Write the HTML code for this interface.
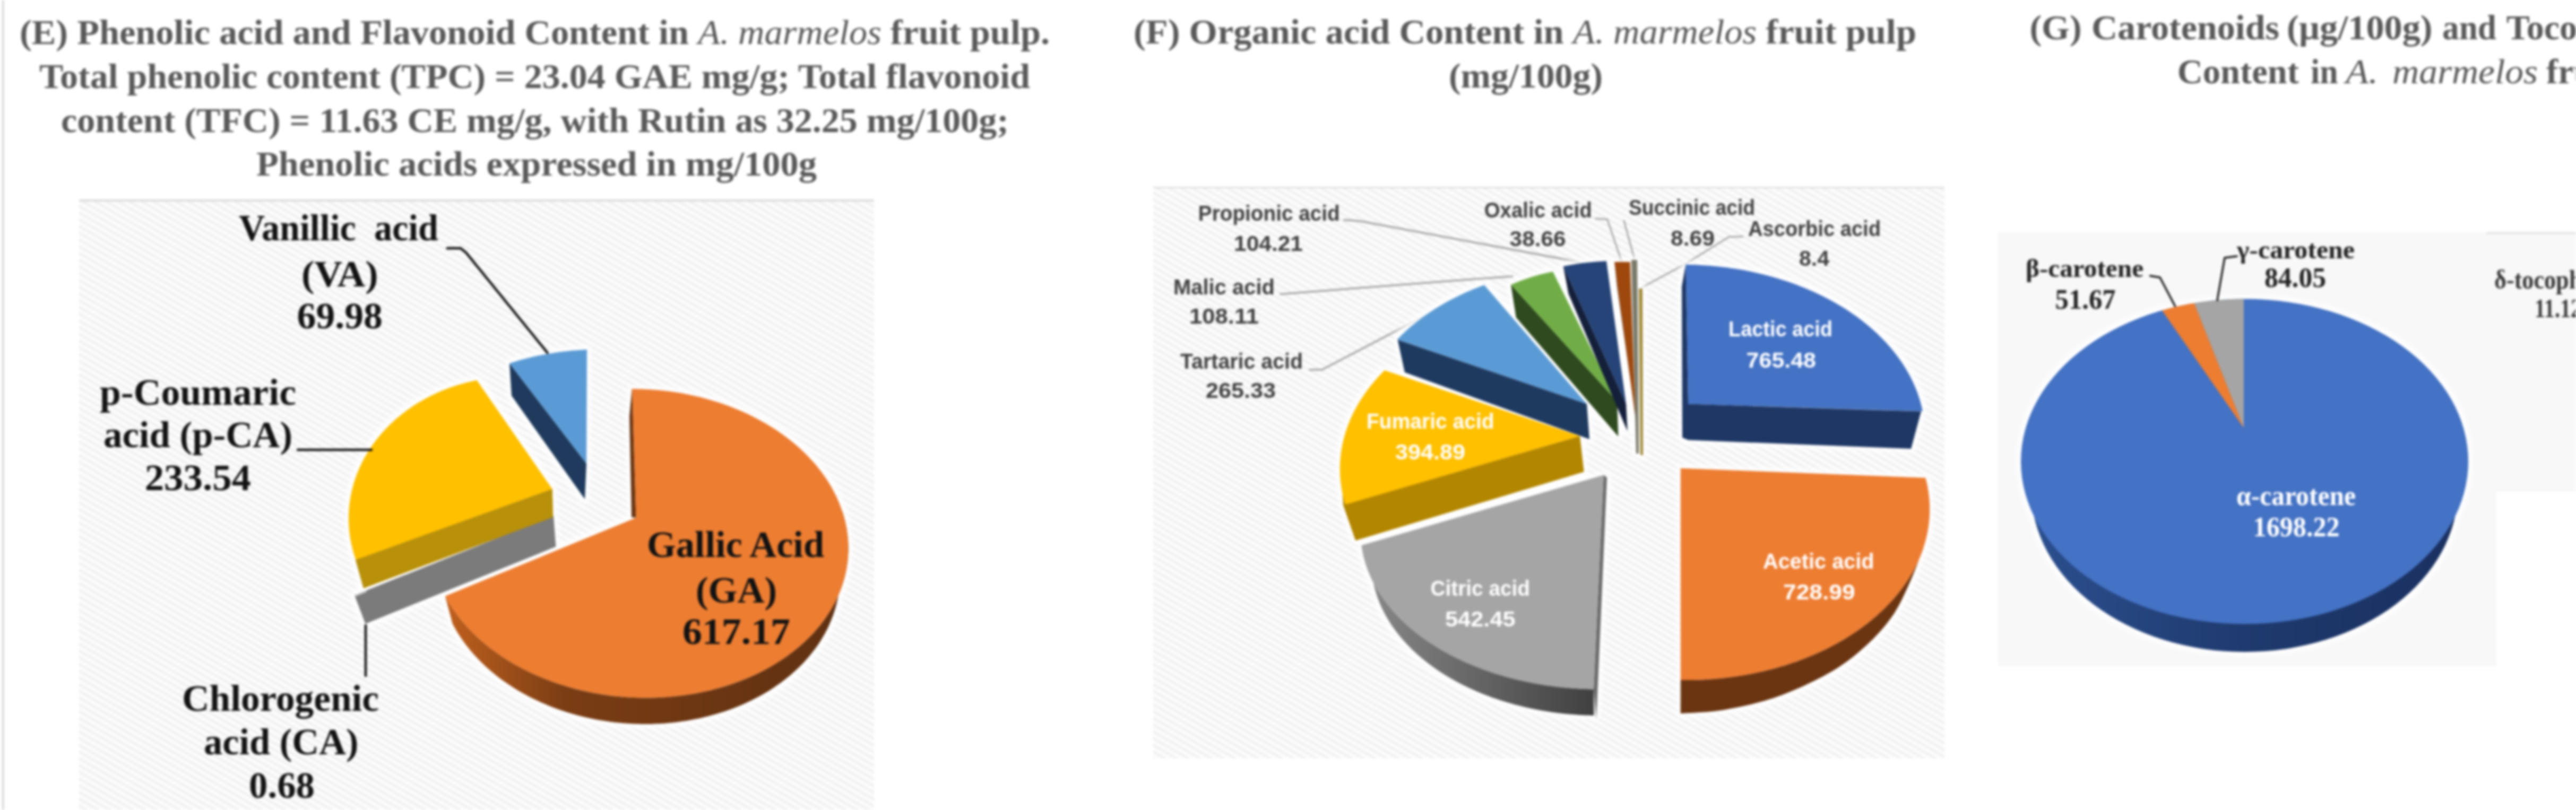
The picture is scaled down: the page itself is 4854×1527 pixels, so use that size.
<!DOCTYPE html>
<html><head><meta charset="utf-8">
<style>
html,body{margin:0;padding:0;background:#fff;width:4854px;height:1527px;overflow:hidden}
svg{display:block;filter:blur(2px)}
.t{font-family:"Liberation Serif",serif;font-weight:bold;fill:#595959}
</style></head><body>
<svg width="4854" height="1527" viewBox="0 0 4854 1527">
<defs>
<pattern id="diag" patternUnits="userSpaceOnUse" width="11" height="11" patternTransform="rotate(-60)">
<rect width="11" height="11" fill="#fcfcfc"/>
<rect width="4.5" height="11" fill="#f0f0f0"/>
</pattern>
<linearGradient id="gOrSide" x1="0" y1="0" x2="1" y2="0">
<stop offset="0" stop-color="#C0601E"/><stop offset="0.3" stop-color="#7A3D14"/><stop offset="1" stop-color="#5E3012"/>
</linearGradient>
<linearGradient id="gBlSide" x1="0" y1="0" x2="1" y2="0"><stop offset="0" stop-color="#2B4F8E"/><stop offset="0.5" stop-color="#1F3A6E"/><stop offset="1" stop-color="#1A3060"/></linearGradient>
<linearGradient id="gGrSide" x1="0" y1="0" x2="1" y2="0">
<stop offset="0" stop-color="#8a8a8a"/><stop offset="1" stop-color="#404040"/>
</linearGradient>
<filter id="glow" x="-10%" y="-10%" width="120%" height="120%" color-interpolation-filters="sRGB">
<feMorphology in="SourceAlpha" operator="dilate" radius="7" result="d"/>
<feGaussianBlur in="d" stdDeviation="4" result="b"/>
<feFlood flood-color="#ffffff" flood-opacity="0.85"/>
<feComposite in2="b" operator="in" result="g"/>
<feMerge><feMergeNode in="g"/><feMergeNode in="SourceGraphic"/></feMerge>
</filter>
</defs>
<rect x="0" y="0" width="4854" height="1527" fill="#fff"/>
<rect x="4" y="0" width="3.5" height="1527" fill="#d6d6d6"/>
<rect x="149" y="377" width="1498" height="1150" fill="url(#diag)"/>
<rect x="149" y="376" width="1498" height="4" fill="#dcdcdc"/>
<rect x="2173" y="353" width="1491" height="1077" fill="url(#diag)"/>
<rect x="2173" y="352" width="1491" height="3" fill="#e2e2e2"/>
<rect x="3765" y="438" width="939" height="818" fill="#f8f8f8"/>
<rect x="4685" y="439" width="169" height="488" fill="#f8f8f8"/>
<rect x="4685" y="438" width="169" height="3" fill="#dddddd"/>
<text class="t" x="37" y="83" font-size="66" textLength="1941" lengthAdjust="spacingAndGlyphs">(E) Phenolic acid and Flavonoid Content in <tspan font-style="italic" font-weight="normal">A. marmelos</tspan> fruit pulp.</text>
<text class="t" x="74" y="166" font-size="66" textLength="1867" lengthAdjust="spacingAndGlyphs">Total phenolic content (TPC) = 23.04 GAE mg/g; Total flavonoid</text>
<text class="t" x="115" y="249" font-size="66" textLength="1786" lengthAdjust="spacingAndGlyphs">content (TFC) = 11.63 CE mg/g, with Rutin as 32.25 mg/100g;</text>
<text class="t" x="483" y="331" font-size="66" textLength="1056" lengthAdjust="spacingAndGlyphs">Phenolic acids expressed in mg/100g</text>
<text class="t" x="2136" y="82" font-size="66" textLength="1475" lengthAdjust="spacingAndGlyphs">(F) Organic acid Content in <tspan font-style="italic" font-weight="normal">A. marmelos</tspan> fruit pulp</text>
<text class="t" x="2730" y="165" font-size="66" textLength="290" lengthAdjust="spacingAndGlyphs">(mg/100g)</text>
<text class="t" x="3824.5" y="74" font-size="66" textLength="98" lengthAdjust="spacingAndGlyphs">(G)</text>
<text class="t" x="3941" y="74" font-size="66" textLength="354" lengthAdjust="spacingAndGlyphs">Carotenoids</text>
<text class="t" x="4309" y="74" font-size="66" textLength="274.6" lengthAdjust="spacingAndGlyphs">(µg/100g)</text>
<text class="t" x="4602" y="74" font-size="66" textLength="102" lengthAdjust="spacingAndGlyphs">and</text>
<text class="t" x="4722.7" y="74" font-size="66">Tocopherols</text>
<text class="t" x="4102.8" y="157" font-size="66" textLength="229" lengthAdjust="spacingAndGlyphs">Content</text>
<text class="t" x="4354" y="157" font-size="66" textLength="51.6" lengthAdjust="spacingAndGlyphs">in</text>
<text class="t" x="4420" y="157" font-size="66" style="font-style:italic;font-weight:normal" textLength="61" lengthAdjust="spacingAndGlyphs">A.</text>
<text class="t" x="4508" y="157" font-size="66" style="font-style:italic;font-weight:normal" textLength="274" lengthAdjust="spacingAndGlyphs">marmelos</text>
<text class="t" x="4798" y="157" font-size="66">fruit</text>
<g filter="url(#glow)">
<polygon points="960.0,685.0 1105.0,874.0 1102.0,941.0 964.0,746.0" fill="#1F3A5C" />
<path d="M960,685 Q1030,662 1106,659 L1105,874 Z" fill="#5B9BD5" />
<polygon points="670.0,1055.5 1040.7,922.0 1042.0,972.6 685.0,1109.0" fill="#B8900A" />
<polygon points="1040.7,922.0 898.5,716.7 893.4,717.8 888.3,718.9 883.2,720.1 878.2,721.4 873.1,722.7 868.1,724.2 863.2,725.6 858.2,727.2 853.3,728.8 848.4,730.6 843.6,732.3 838.8,734.2 834.0,736.1 829.3,738.1 824.6,740.1 819.9,742.3 815.3,744.5 810.7,746.7 806.2,749.0 801.7,751.4 797.3,753.9 792.9,756.4 788.6,759.0 784.3,761.6 780.1,764.3 775.9,767.1 771.8,769.9 767.7,772.8 763.7,775.7 759.8,778.7 755.9,781.8 752.1,784.9 748.3,788.1 744.6,791.3 741.0,794.6 737.4,797.9 733.9,801.3 730.5,804.7 727.1,808.2 723.8,811.7 720.6,815.3 717.4,818.9 714.4,822.6 711.3,826.3 708.4,830.0 705.5,833.8 702.8,837.7 700.0,841.5 697.4,845.5 694.8,849.4 692.4,853.4 690.0,857.4 687.6,861.5 685.4,865.6 683.2,869.7 681.2,873.9 679.2,878.1 677.2,882.3 675.4,886.5 673.7,890.8 672.0,895.1 670.4,899.4 668.9,903.7 667.5,908.1 666.2,912.5 665.0,916.9 663.8,921.3 662.8,925.7 661.8,930.1 660.9,934.6 660.1,939.1 659.4,943.6 658.8,948.0 658.2,952.5 657.8,957.0 657.4,961.6 657.2,966.1 657.0,970.6 656.9,975.1 656.9,979.6 657.0,984.2 657.2,988.7 657.5,993.2 657.8,997.7 658.3,1002.2 658.8,1006.7 659.4,1011.2 660.1,1015.7 660.9,1020.2 661.8,1024.6 662.8,1029.1 663.9,1033.5 665.0,1037.9 666.2,1042.3 667.6,1046.7 669.0,1051.0 670.5,1055.4" fill="#FFC000" />
<polygon points="668.0,1122.0 1043.0,972.0 1047.4,1030.6 688.5,1176.0" fill="#7B7B7B" />
<polygon points="668.0,1122.0 690.0,1113.0 691.0,1116.0 669.0,1125.0" fill="#c8c8c8" />
<polygon points="670.0,1055.5 1040.7,922.0 1042.0,975.0 685.0,1109.0" fill="#B8900A" />
<polygon points="1586.8,963.0 1588.8,969.3 1590.6,975.6 1592.3,981.9 1593.7,988.2 1595.0,994.5 1596.0,1000.9 1596.9,1007.3 1597.6,1013.6 1598.1,1020.0 1598.4,1026.4 1598.6,1032.8 1598.5,1039.2 1598.2,1045.6 1597.8,1051.9 1597.2,1058.3 1596.3,1064.6 1595.3,1070.9 1594.1,1077.2 1592.7,1083.5 1591.2,1089.7 1589.4,1095.9 1587.5,1102.1 1585.3,1108.2 1583.0,1114.3 1580.5,1120.4 1577.8,1126.4 1575.0,1132.4 1572.0,1138.3 1568.7,1144.1 1565.4,1149.9 1561.8,1155.6 1558.1,1161.3 1554.2,1166.9 1550.1,1172.5 1545.9,1177.9 1541.5,1183.3 1536.9,1188.6 1532.2,1193.9 1527.3,1199.0 1522.3,1204.1 1517.1,1209.1 1511.7,1213.9 1506.3,1218.8 1500.6,1223.5 1494.8,1228.1 1488.9,1232.6 1482.9,1237.0 1476.7,1241.3 1470.4,1245.5 1463.9,1249.6 1457.4,1253.6 1450.7,1257.5 1443.9,1261.3 1437.0,1264.9 1429.9,1268.5 1422.8,1271.9 1415.5,1275.2 1408.2,1278.4 1400.7,1281.4 1393.2,1284.4 1385.6,1287.2 1377.8,1289.9 1370.0,1292.4 1362.1,1294.9 1354.2,1297.2 1346.2,1299.3 1338.1,1301.4 1329.9,1303.3 1321.7,1305.0 1313.4,1306.7 1305.1,1308.2 1296.7,1309.5 1288.2,1310.7 1279.8,1311.8 1271.3,1312.8 1262.7,1313.6 1254.2,1314.3 1245.6,1314.8 1237.0,1315.2 1228.4,1315.4 1219.7,1315.5 1211.1,1315.5 1202.5,1315.3 1193.8,1315.0 1185.2,1314.6 1176.6,1314.0 1167.9,1313.2 1159.3,1312.4 1150.8,1311.4 1142.2,1310.2 1133.7,1308.9 1125.2,1307.5 1116.8,1306.0 1108.4,1304.3 1100.0,1302.4 1091.7,1300.5 1083.4,1298.4 1075.3,1296.2 1067.1,1293.8 1059.1,1291.3 1051.1,1288.7 1043.1,1286.0 1035.3,1283.1 1027.5,1280.1 1019.9,1277.0 1012.3,1273.8 1004.8,1270.4 997.4,1266.9 990.1,1263.3 982.9,1259.6 975.8,1255.8 968.8,1251.9 961.9,1247.8 955.2,1243.7 948.6,1239.4 942.0,1235.1 935.7,1230.6 929.4,1226.1 923.3,1221.4 917.3,1216.7 911.5,1211.8 905.8,1206.9 900.2,1201.9 894.8,1196.8 889.5,1191.6 884.4,1186.3 879.5,1181.0 874.7,1175.5 870.0,1170.0 865.5,1164.5 861.2,1158.8 857.1,1153.1 853.1,1147.4 849.3,1141.6 845.6,1135.7 842.1,1129.8 838.8,1123.8 852.7,1175.8 855.8,1181.7 859.1,1187.6 862.6,1193.4 866.3,1199.1 870.1,1204.8 874.1,1210.5 878.2,1216.0 882.5,1221.5 887.0,1227.0 891.6,1232.3 896.4,1237.6 901.3,1242.8 906.3,1247.9 911.5,1253.0 916.8,1257.9 922.3,1262.8 927.9,1267.6 933.7,1272.3 939.5,1276.9 945.5,1281.4 951.7,1285.8 957.9,1290.1 964.3,1294.3 970.8,1298.4 977.4,1302.4 984.1,1306.2 990.9,1310.0 997.8,1313.7 1004.8,1317.2 1011.9,1320.6 1019.1,1324.0 1026.4,1327.1 1033.8,1330.2 1041.2,1333.2 1048.7,1336.0 1056.4,1338.7 1064.0,1341.3 1071.8,1343.7 1079.6,1346.0 1087.5,1348.2 1095.4,1350.3 1103.4,1352.2 1111.4,1354.0 1119.5,1355.7 1127.6,1357.2 1135.7,1358.6 1143.9,1359.8 1152.1,1361.0 1160.4,1362.0 1168.6,1362.8 1176.9,1363.5 1185.2,1364.1 1193.5,1364.5 1201.8,1364.8 1210.1,1365.0 1218.4,1365.0 1226.7,1364.9 1235.0,1364.6 1243.3,1364.2 1251.5,1363.7 1259.7,1363.0 1267.9,1362.2 1276.1,1361.2 1284.3,1360.1 1292.4,1358.9 1300.4,1357.6 1308.4,1356.1 1316.4,1354.4 1324.3,1352.7 1332.1,1350.8 1339.9,1348.8 1347.6,1346.6 1355.3,1344.3 1362.9,1341.9 1370.4,1339.4 1377.8,1336.7 1385.1,1333.9 1392.4,1331.0 1399.6,1327.9 1406.6,1324.8 1413.6,1321.5 1420.5,1318.1 1427.2,1314.6 1433.9,1310.9 1440.4,1307.2 1446.9,1303.4 1453.2,1299.4 1459.4,1295.3 1465.5,1291.1 1471.4,1286.9 1477.2,1282.5 1482.9,1278.0 1488.5,1273.4 1493.9,1268.8 1499.2,1264.0 1504.3,1259.2 1509.3,1254.2 1514.2,1249.2 1518.9,1244.1 1523.4,1238.9 1527.8,1233.6 1532.0,1228.3 1536.1,1222.9 1540.0,1217.4 1543.8,1211.9 1547.4,1206.2 1550.8,1200.6 1554.1,1194.8 1557.2,1189.0 1560.1,1183.2 1562.8,1177.3 1565.4,1171.3 1567.8,1165.3 1570.1,1159.3 1572.1,1153.2 1574.0,1147.1 1575.7,1141.0 1577.2,1134.8 1578.6,1128.6 1579.7,1122.4 1580.7,1116.1 1581.5,1109.8 1582.1,1103.5 1582.6,1097.3 1582.8,1090.9 1582.9,1084.6 1582.8,1078.3 1582.5,1072.0 1582.0,1065.7 1581.3,1059.4 1580.5,1053.1 1579.5,1046.8 1578.3,1040.5 1576.9,1034.2 1575.4,1028.0 1573.6,1021.8 1571.7,1015.6" fill="url(#gOrSide)" />
<polygon points="1186.0,785.0 1191.0,730.4 1198.5,976.0 1190.0,975.0" fill="#6A3512" />
<polygon points="1198.5,976.0 1191.1,733.3 1197.7,733.3 1204.4,733.4 1211.0,733.6 1217.6,733.9 1224.2,734.2 1230.8,734.7 1237.4,735.2 1244.0,735.8 1250.6,736.5 1257.1,737.3 1263.7,738.1 1270.2,739.0 1276.7,740.1 1283.2,741.1 1289.7,742.3 1296.1,743.6 1302.6,744.9 1308.9,746.3 1315.3,747.8 1321.6,749.3 1327.9,751.0 1334.2,752.7 1340.4,754.5 1346.6,756.4 1352.8,758.3 1358.9,760.3 1364.9,762.4 1371.0,764.6 1376.9,766.8 1382.9,769.2 1388.7,771.6 1394.6,774.0 1400.3,776.5 1406.0,779.1 1411.7,781.8 1417.3,784.5 1422.8,787.4 1428.3,790.2 1433.7,793.2 1439.1,796.2 1444.4,799.2 1449.6,802.4 1454.7,805.6 1459.8,808.8 1464.8,812.1 1469.7,815.5 1474.6,818.9 1479.4,822.4 1484.1,826.0 1488.7,829.6 1493.2,833.2 1497.7,837.0 1502.1,840.7 1506.4,844.5 1510.6,848.4 1514.7,852.3 1518.7,856.3 1522.7,860.3 1526.5,864.4 1530.3,868.5 1534.0,872.6 1537.6,876.8 1541.1,881.1 1544.4,885.3 1547.7,889.6 1550.9,894.0 1554.1,898.4 1557.1,902.8 1560.0,907.3 1562.8,911.8 1565.5,916.3 1568.1,920.8 1570.6,925.4 1573.0,930.0 1575.3,934.7 1577.5,939.3 1579.5,944.0 1581.5,948.7 1583.4,953.5 1585.1,958.2 1586.8,963.0 1588.4,967.8 1589.8,972.6 1591.1,977.4 1592.4,982.2 1593.5,987.1 1594.5,991.9 1595.4,996.8 1596.2,1001.7 1596.8,1006.5 1597.4,1011.4 1597.8,1016.3 1598.2,1021.2 1598.4,1026.1 1598.5,1031.0 1598.5,1035.8 1598.4,1040.7 1598.2,1045.6 1597.9,1050.5 1597.5,1055.3 1596.9,1060.2 1596.3,1065.1 1595.5,1069.9 1594.6,1074.7 1593.6,1079.5 1592.5,1084.3 1591.3,1089.1 1590.0,1093.8 1588.6,1098.6 1587.1,1103.3 1585.4,1108.0 1583.7,1112.7 1581.8,1117.3 1579.9,1121.9 1577.8,1126.5 1575.6,1131.1 1573.3,1135.6 1571.0,1140.1 1568.5,1144.6 1565.9,1149.0 1563.2,1153.4 1560.4,1157.8 1557.5,1162.1 1554.5,1166.4 1551.4,1170.6 1548.3,1174.9 1545.0,1179.0 1541.6,1183.1 1538.1,1187.2 1534.6,1191.2 1530.9,1195.2 1527.1,1199.2 1523.3,1203.0 1519.4,1206.9 1515.3,1210.7 1511.2,1214.4 1507.0,1218.1 1502.8,1221.7 1498.4,1225.3 1493.9,1228.8 1489.4,1232.2 1484.8,1235.6 1480.1,1239.0 1475.4,1242.2 1470.5,1245.4 1465.6,1248.6 1460.6,1251.7 1455.5,1254.7 1450.4,1257.7 1445.2,1260.6 1439.9,1263.4 1434.6,1266.1 1429.2,1268.8 1423.7,1271.4 1418.2,1274.0 1412.6,1276.5 1407.0,1278.9 1401.2,1281.2 1395.5,1283.5 1389.7,1285.7 1383.8,1287.8 1377.9,1289.9 1371.9,1291.8 1365.9,1293.7 1359.9,1295.5 1353.8,1297.3 1347.6,1298.9 1341.4,1300.5 1335.2,1302.0 1328.9,1303.5 1322.7,1304.8 1316.3,1306.1 1310.0,1307.3 1303.6,1308.4 1297.2,1309.4 1290.7,1310.4 1284.2,1311.3 1277.8,1312.1 1271.2,1312.8 1264.7,1313.4 1258.2,1314.0 1251.6,1314.4 1245.0,1314.8 1238.5,1315.1 1231.9,1315.3 1225.3,1315.5 1218.6,1315.5 1212.0,1315.5 1205.4,1315.4 1198.8,1315.2 1192.2,1314.9 1185.6,1314.6 1179.0,1314.2 1172.4,1313.6 1165.8,1313.0 1159.2,1312.4 1152.6,1311.6 1146.1,1310.8 1139.6,1309.8 1133.0,1308.8 1126.6,1307.8 1120.1,1306.6 1113.6,1305.3 1107.2,1304.0 1100.8,1302.6 1094.4,1301.1 1088.1,1299.6 1081.8,1298.0 1075.5,1296.2 1069.3,1294.5 1063.1,1292.6 1057.0,1290.7 1050.8,1288.6 1044.8,1286.5 1038.8,1284.4 1032.8,1282.1 1026.8,1279.8 1021.0,1277.5 1015.1,1275.0 1009.4,1272.5 1003.7,1269.9 998.0,1267.2 992.4,1264.5 986.8,1261.7 981.4,1258.8 975.9,1255.9 970.6,1252.9 965.3,1249.8 960.1,1246.7 954.9,1243.5 949.8,1240.3 944.8,1237.0 939.9,1233.6 935.0,1230.2 930.3,1226.7 925.5,1223.1 920.9,1219.5 916.4,1215.9 911.9,1212.2 907.5,1208.4 903.2,1204.6 899.0,1200.7 894.9,1196.8 890.8,1192.9 886.9,1188.8 883.0,1184.8 879.2,1180.7 875.5,1176.5 871.9,1172.3 868.4,1168.1 865.0,1163.8 861.7,1159.5 858.5,1155.2 855.4,1150.8 852.4,1146.4 849.5,1141.9 846.7,1137.4 844.0,1132.9 841.3,1128.4 838.8,1123.8" fill="#ED7D31" />
</g>
<text x="450.0" y="453.4" font-family="Liberation Serif" font-weight="bold" font-size="70.0" fill="#121212" textLength="376.0" lengthAdjust="spacingAndGlyphs" >Vanillic&#160; acid</text>
<text x="568.0" y="539.5" font-family="Liberation Serif" font-weight="bold" font-size="70.0" fill="#121212" textLength="144.6" lengthAdjust="spacingAndGlyphs" >(VA)</text>
<text x="559.5" y="619.0" font-family="Liberation Serif" font-weight="bold" font-size="70.0" fill="#121212" textLength="161.5" lengthAdjust="spacingAndGlyphs" >69.98</text>
<polyline points="842.7,468.0 868.0,468.0 878.0,476.0 1031.5,665.0" fill="none" stroke="#121212" stroke-width="4.5" stroke-linejoin="round" stroke-linecap="round"/>
<text x="188.0" y="763.0" font-family="Liberation Serif" font-weight="bold" font-size="70.0" fill="#121212" textLength="370.0" lengthAdjust="spacingAndGlyphs" >p-Coumaric</text>
<text x="195.0" y="842.5" font-family="Liberation Serif" font-weight="bold" font-size="70.0" fill="#121212" textLength="356.0" lengthAdjust="spacingAndGlyphs" >acid (p-CA)</text>
<text x="272.7" y="923.7" font-family="Liberation Serif" font-weight="bold" font-size="70.0" fill="#121212" textLength="200.3" lengthAdjust="spacingAndGlyphs" >233.54</text>
<polyline points="561.0,848.0 700.0,848.0" fill="none" stroke="#121212" stroke-width="4.5" stroke-linejoin="round" stroke-linecap="round"/>
<text x="343.0" y="1340.0" font-family="Liberation Serif" font-weight="bold" font-size="70.0" fill="#121212" textLength="371.0" lengthAdjust="spacingAndGlyphs" >Chlorogenic</text>
<text x="384.0" y="1421.7" font-family="Liberation Serif" font-weight="bold" font-size="70.0" fill="#121212" textLength="291.5" lengthAdjust="spacingAndGlyphs" >acid (CA)</text>
<text x="469.0" y="1503.5" font-family="Liberation Serif" font-weight="bold" font-size="70.0" fill="#121212" textLength="124.0" lengthAdjust="spacingAndGlyphs" >0.68</text>
<polyline points="689.0,1179.0 689.0,1274.0" fill="none" stroke="#121212" stroke-width="4.5" stroke-linejoin="round" stroke-linecap="round"/>
<text x="1219.0" y="1050.0" font-family="Liberation Serif" font-weight="bold" font-size="70.0" fill="#121212" textLength="334.0" lengthAdjust="spacingAndGlyphs" >Gallic Acid</text>
<text x="1311.0" y="1136.0" font-family="Liberation Serif" font-weight="bold" font-size="70.0" fill="#121212" textLength="153.0" lengthAdjust="spacingAndGlyphs" >(GA)</text>
<text x="1286.0" y="1214.0" font-family="Liberation Serif" font-weight="bold" font-size="70.0" fill="#121212" textLength="203.0" lengthAdjust="spacingAndGlyphs" >617.17</text>
<polyline points="2532.7,414.5 2564.0,417.0 2975.6,494.0" fill="none" stroke="#A6A6A6" stroke-width="3.5" stroke-linejoin="round" stroke-linecap="round"/>
<polyline points="2413.0,554.5 2780.0,526.0 2850.0,521.0" fill="none" stroke="#A6A6A6" stroke-width="3.5" stroke-linejoin="round" stroke-linecap="round"/>
<polyline points="2468.0,697.0 2491.0,697.0 2699.0,588.0 2790.0,545.0" fill="none" stroke="#A6A6A6" stroke-width="3.5" stroke-linejoin="round" stroke-linecap="round"/>
<polyline points="3006.7,412.0 3028.7,413.5 3056.0,494.0" fill="none" stroke="#A6A6A6" stroke-width="3.0" stroke-linejoin="round" stroke-linecap="round"/>
<polyline points="3060.0,416.0 3080.6,491.0" fill="none" stroke="#A6A6A6" stroke-width="3.0" stroke-linejoin="round" stroke-linecap="round"/>
<polyline points="3284.0,446.0 3258.0,446.5 3175.0,498.0 3092.0,543.0" fill="none" stroke="#A6A6A6" stroke-width="3.0" stroke-linejoin="round" stroke-linecap="round"/>
<g filter="url(#glow)">
<polygon points="2633.6,640.4 2990.0,761.4 2995.0,828.0 2647.0,702.0" fill="#1F3A5F" />
<polygon points="2990.0,761.4 2632.8,640.1 2637.1,635.7 2641.4,631.3 2645.9,627.0 2650.4,622.8 2655.1,618.6 2659.9,614.5 2664.8,610.4 2669.8,606.4 2674.9,602.4 2680.1,598.5 2685.5,594.7 2690.9,590.9 2696.4,587.2 2702.0,583.5 2707.7,579.9 2713.6,576.4 2719.5,573.0 2725.5,569.6 2731.5,566.3 2737.7,563.0 2744.0,559.9 2750.3,556.8 2756.7,553.7 2763.2,550.8 2769.8,547.9 2776.4,545.1 2783.2,542.4 2790.0,539.8 2796.8,537.2" fill="#5B9BD5" />
<polygon points="2847.0,536.7 3047.0,756.4 3049.4,823.0 2856.8,598.4" fill="#2E4A1E" />
<path d="M2847,536.7 Q2885,520 2926,512 L3047,756.4 Z" fill="#70AD47" />
<polygon points="2945.7,502.0 3064.0,761.4 3066.7,813.0 2955.6,554.0" fill="#141F3A" />
<path d="M2945.7,502 Q2985,494 3027,492 L3064,761.4 Z" fill="#264478" />
<polygon points="3042.0,493.7 3081.5,786.0 3086.0,815.7 3047.0,540.0" fill="#5A2A08" />
<polygon points="3042.0,493.7 3071.6,493.7 3081.5,786.0" fill="#9E480E" />
<polygon points="3074.0,490.0 3085.0,490.0 3088.0,855.0 3083.0,855.0" fill="#7a7a6a" />
<polygon points="3088.0,544.0 3095.0,544.0 3096.0,858.0 3091.0,858.0" fill="#A08A3A" />
<polygon points="2531.0,951.8 2977.0,822.0 2984.7,889.6 2554.4,1019.0" fill="#B38600" />
<polygon points="2531.0,951.8 2528.0,900.0 2554.4,1019.0" fill="#B38600" />
<polygon points="2977.0,822.0 2608.9,698.1 2604.4,702.7 2600.0,707.3 2595.7,711.9 2591.6,716.7 2587.5,721.4 2583.6,726.2 2579.8,731.1 2576.1,736.0 2572.5,740.9 2569.1,745.9 2565.8,750.9 2562.6,756.0 2559.5,761.1 2556.6,766.2 2553.7,771.4 2551.0,776.6 2548.5,781.8 2546.0,787.1 2543.7,792.4 2541.5,797.7 2539.5,803.1 2537.6,808.4 2535.8,813.8 2534.1,819.2 2532.6,824.7 2531.2,830.1 2530.0,835.6 2528.9,841.1 2527.9,846.6 2527.0,852.1 2526.3,857.6 2525.8,863.1 2525.3,868.6 2525.0,874.2 2524.8,879.7 2524.8,885.3 2524.9,890.8 2525.1,896.3 2525.5,901.9 2526.0,907.4 2526.7,912.9 2527.4,918.4 2528.4,923.9 2529.4,929.4 2530.6,934.9 2531.9,940.3 2533.4,945.8 2534.9,951.2" fill="#FFC000" />
<polygon points="3003.0,1299.4 2999.7,1299.4 2996.4,1299.3 2993.1,1299.2 2989.8,1299.1 2986.5,1298.9 2983.2,1298.8 2979.9,1298.7 2976.6,1298.5 2973.3,1298.3 2970.0,1298.1 2966.7,1297.9 2963.5,1297.6 2960.2,1297.4 2956.9,1297.1 2953.6,1296.8 2950.3,1296.5 2947.1,1296.2 2943.8,1295.9 2940.5,1295.5 2937.3,1295.2 2934.0,1294.8 2930.8,1294.4 2927.5,1294.0 2924.3,1293.6 2921.1,1293.1 2917.8,1292.7 2914.6,1292.2 2911.4,1291.7 2908.2,1291.2 2905.0,1290.7 2901.7,1290.1 2898.5,1289.6 2895.4,1289.0 2892.2,1288.4 2889.0,1287.8 2885.8,1287.2 2882.7,1286.6 2879.5,1286.0 2876.3,1285.3 2873.2,1284.6 2870.1,1283.9 2866.9,1283.2 2863.8,1282.5 2860.7,1281.8 2857.6,1281.0 2854.5,1280.3 2851.4,1279.5 2848.3,1278.7 2845.3,1277.9 2842.2,1277.1 2839.2,1276.2 2836.1,1275.4 2833.1,1274.5 2830.1,1273.6 2827.1,1272.7 2824.1,1271.8 2821.1,1270.9 2818.1,1269.9 2815.1,1269.0 2812.2,1268.0 2809.2,1267.0 2806.3,1266.0 2803.3,1265.0 2800.4,1264.0 2797.5,1262.9 2794.6,1261.9 2791.7,1260.8 2788.9,1259.7 2786.0,1258.6 2783.2,1257.5 2780.3,1256.4 2777.5,1255.3 2774.7,1254.1 2771.9,1252.9 2769.1,1251.8 2766.4,1250.6 2763.6,1249.4 2760.9,1248.2 2758.2,1246.9 2755.5,1245.7 2752.8,1244.4 2750.1,1243.1 2747.4,1241.9 2744.7,1240.6 2742.1,1239.3 2739.5,1237.9 2736.9,1236.6 2734.3,1235.2 2731.7,1233.9 2729.1,1232.5 2726.6,1231.1 2724.0,1229.7 2721.5,1228.3 2719.0,1226.9 2716.5,1225.5 2714.0,1224.0 2711.6,1222.6 2709.1,1221.1 2706.7,1219.6 2704.3,1218.1 2701.9,1216.6 2699.6,1215.1 2697.2,1213.6 2694.9,1212.0 2692.5,1210.5 2690.2,1208.9 2687.9,1207.3 2685.7,1205.8 2683.4,1204.2 2681.2,1202.6 2679.0,1200.9 2676.8,1199.3 2674.6,1197.7 2672.4,1196.0 2670.3,1194.4 2668.2,1192.7 2666.1,1191.0 2664.0,1189.3 2661.9,1187.6 2659.9,1185.9 2657.8,1184.2 2655.8,1182.5 2653.8,1180.7 2651.9,1179.0 2649.9,1177.2 2648.0,1175.4 2646.1,1173.7 2644.2,1171.9 2642.3,1170.1 2640.4,1168.3 2638.6,1166.5 2636.8,1164.7 2635.0,1162.8 2633.2,1161.0 2631.5,1159.1 2629.7,1157.3 2628.0,1155.4 2626.3,1153.5 2624.7,1151.7 2623.0,1149.8 2621.4,1147.9 2619.8,1146.0 2618.2,1144.1 2616.7,1142.1 2615.1,1140.2 2613.6,1138.3 2612.1,1136.3 2610.6,1134.4 2609.2,1132.4 2607.7,1130.5 2606.3,1128.5 2604.9,1126.5 2603.6,1124.5 2602.2,1122.5 2600.9,1120.5 2599.6,1118.5 2598.3,1116.5 2597.1,1114.5 2595.8,1112.5 2594.6,1110.5 2593.4,1108.4 2592.3,1106.4 2591.1,1104.3 2590.0,1102.3 2588.9,1100.2 2587.8,1098.2 2586.8,1096.1 2585.8,1094.0 2584.8,1092.0 2583.8,1089.9 2582.8,1087.8 2581.9,1085.7 2581.0,1083.6 2580.1,1081.5 2579.2,1079.4 2578.4,1077.3 2577.6,1075.2 2576.8,1073.1 2576.0,1071.0 2575.3,1068.8 2574.5,1066.7 2573.8,1064.6 2573.2,1062.4 2572.5,1060.3 2571.9,1058.2 2571.3,1056.0 2570.7,1053.9 2570.1,1051.7 2569.6,1049.6 2569.1,1047.4 2568.6,1045.3 2568.2,1043.1 2567.7,1040.9 2567.3,1038.8 2566.9,1036.6 2566.6,1034.5 2566.2,1032.3 2565.9,1030.1 2565.6,1027.9 2585.4,1083.4 2585.7,1085.5 2586.0,1087.6 2586.3,1089.8 2586.7,1091.9 2587.1,1094.0 2587.5,1096.1 2587.9,1098.2 2588.3,1100.3 2588.8,1102.4 2589.3,1104.5 2589.8,1106.6 2590.3,1108.7 2590.9,1110.8 2591.4,1112.9 2592.0,1115.0 2592.7,1117.1 2593.3,1119.2 2594.0,1121.3 2594.7,1123.4 2595.4,1125.4 2596.1,1127.5 2596.9,1129.6 2597.6,1131.6 2598.5,1133.7 2599.3,1135.8 2600.1,1137.8 2601.0,1139.9 2601.9,1141.9 2602.8,1143.9 2603.7,1146.0 2604.7,1148.0 2605.7,1150.0 2606.7,1152.1 2607.7,1154.1 2608.8,1156.1 2609.8,1158.1 2610.9,1160.1 2612.0,1162.1 2613.2,1164.1 2614.3,1166.0 2615.5,1168.0 2616.7,1170.0 2617.9,1172.0 2619.2,1173.9 2620.4,1175.9 2621.7,1177.8 2623.0,1179.8 2624.3,1181.7 2625.7,1183.6 2627.1,1185.5 2628.5,1187.5 2629.9,1189.4 2631.3,1191.3 2632.7,1193.1 2634.2,1195.0 2635.7,1196.9 2637.2,1198.8 2638.8,1200.6 2640.3,1202.5 2641.9,1204.3 2643.5,1206.2 2645.1,1208.0 2646.7,1209.8 2648.4,1211.7 2650.1,1213.5 2651.8,1215.3 2653.5,1217.1 2655.2,1218.8 2657.0,1220.6 2658.7,1222.4 2660.5,1224.1 2662.3,1225.9 2664.2,1227.6 2666.0,1229.3 2667.9,1231.1 2669.8,1232.8 2671.7,1234.5 2673.6,1236.2 2675.5,1237.8 2677.5,1239.5 2679.5,1241.2 2681.4,1242.8 2683.5,1244.5 2685.5,1246.1 2687.5,1247.7 2689.6,1249.3 2691.7,1250.9 2693.8,1252.5 2695.9,1254.1 2698.0,1255.7 2700.2,1257.2 2702.4,1258.8 2704.5,1260.3 2706.8,1261.9 2709.0,1263.4 2711.2,1264.9 2713.5,1266.4 2715.7,1267.9 2718.0,1269.3 2720.3,1270.8 2722.6,1272.2 2725.0,1273.7 2727.3,1275.1 2729.7,1276.5 2732.0,1277.9 2734.4,1279.3 2736.9,1280.7 2739.3,1282.1 2741.7,1283.4 2744.2,1284.7 2746.6,1286.1 2749.1,1287.4 2751.6,1288.7 2754.1,1290.0 2756.6,1291.3 2759.2,1292.5 2761.7,1293.8 2764.3,1295.0 2766.9,1296.3 2769.5,1297.5 2772.1,1298.7 2774.7,1299.9 2777.3,1301.1 2780.0,1302.2 2782.6,1303.4 2785.3,1304.5 2788.0,1305.7 2790.7,1306.8 2793.4,1307.9 2796.1,1308.9 2798.8,1310.0 2801.6,1311.1 2804.3,1312.1 2807.1,1313.2 2809.9,1314.2 2812.7,1315.2 2815.5,1316.2 2818.3,1317.1 2821.1,1318.1 2823.9,1319.1 2826.7,1320.0 2829.6,1320.9 2832.5,1321.8 2835.3,1322.7 2838.2,1323.6 2841.1,1324.5 2844.0,1325.3 2846.9,1326.1 2849.8,1327.0 2852.7,1327.8 2855.7,1328.6 2858.6,1329.3 2861.6,1330.1 2864.5,1330.8 2867.5,1331.6 2870.5,1332.3 2873.4,1333.0 2876.4,1333.7 2879.4,1334.4 2882.4,1335.0 2885.4,1335.7 2888.5,1336.3 2891.5,1336.9 2894.5,1337.5 2897.6,1338.1 2900.6,1338.7 2903.7,1339.2 2906.7,1339.7 2909.8,1340.3 2912.8,1340.8 2915.9,1341.3 2919.0,1341.7 2922.1,1342.2 2925.2,1342.7 2928.3,1343.1 2931.4,1343.5 2934.5,1343.9 2937.6,1344.3 2940.7,1344.7 2943.8,1345.0 2946.9,1345.4 2950.0,1345.7 2953.2,1346.0 2956.3,1346.3 2959.4,1346.6 2962.6,1346.8 2965.7,1347.1 2968.8,1347.3 2972.0,1347.5 2975.1,1347.7 2978.3,1347.9 2981.4,1348.1 2984.6,1348.2 2987.7,1348.4 2990.9,1348.5 2994.0,1348.6 2997.2,1348.7 3000.3,1348.8 3003.5,1348.8" fill="url(#gGrSide)" />
<polygon points="3021.8,895.4 3028.0,900.0 3008.0,1356.0 3003.0,1300.0" fill="#6a6a6a" />
<polygon points="3021.8,895.4 3003.0,1299.4 2995.4,1299.2 2987.7,1299.0 2980.1,1298.7 2972.5,1298.2 2964.9,1297.7 2957.3,1297.1 2949.7,1296.5 2942.1,1295.7 2934.6,1294.9 2927.1,1293.9 2919.6,1292.9 2912.1,1291.8 2904.7,1290.6 2897.3,1289.4 2889.9,1288.0 2882.6,1286.6 2875.3,1285.1 2868.0,1283.5 2860.8,1281.8 2853.6,1280.0 2846.5,1278.2 2839.4,1276.3 2832.4,1274.3 2825.5,1272.2 2818.5,1270.1 2811.7,1267.8 2804.9,1265.5 2798.1,1263.2 2791.4,1260.7 2784.8,1258.2 2778.3,1255.6 2771.8,1252.9 2765.4,1250.1 2759.0,1247.3 2752.8,1244.4 2746.6,1241.5 2740.5,1238.4 2734.4,1235.3 2728.5,1232.2 2722.6,1228.9 2716.8,1225.6 2711.1,1222.3 2705.5,1218.9 2700.0,1215.4 2694.6,1211.8 2689.2,1208.2 2684.0,1204.5 2678.8,1200.8 2673.8,1197.0 2668.8,1193.2 2664.0,1189.3 2659.2,1185.4 2654.5,1181.4 2650.0,1177.3 2645.5,1173.2 2641.2,1169.0 2637.0,1164.8 2632.9,1160.6 2628.8,1156.3 2624.9,1152.0 2621.2,1147.6 2617.5,1143.2 2613.9,1138.7 2610.5,1134.2 2607.2,1129.7 2603.9,1125.1 2600.9,1120.5 2597.9,1115.8 2595.0,1111.1 2592.3,1106.4 2589.7,1101.7 2587.2,1096.9 2584.8,1092.1 2582.6,1087.3 2580.5,1082.5 2578.5,1077.6 2576.6,1072.7 2574.9,1067.8 2573.3,1062.9 2571.8,1057.9 2570.5,1053.0 2569.2,1048.0 2568.1,1043.0 2567.2,1038.0 2566.3,1033.0 2565.6,1027.9" fill="#A5A5A5" />
<polygon points="3181.0,761.6 3620.0,775.6 3601.0,846.0 3181.0,829.6" fill="#1E3765" />
<polygon points="3169.0,540.0 3176.4,498.8 3181.0,761.6 3181.0,829.6 3170.0,825.0" fill="#1E3765" />
<polygon points="3181.0,761.6 3176.4,498.7 3184.2,498.9 3192.0,499.1 3199.8,499.4 3207.6,499.9 3215.4,500.4 3223.1,501.0 3230.9,501.7 3238.6,502.5 3246.3,503.4 3254.0,504.3 3261.7,505.4 3269.3,506.6 3276.9,507.8 3284.5,509.1 3292.0,510.6 3299.5,512.1 3307.0,513.7 3314.4,515.4 3321.8,517.2 3329.1,519.1 3336.4,521.0 3343.7,523.1 3350.8,525.2 3358.0,527.4 3365.1,529.7 3372.1,532.1 3379.1,534.6 3386.0,537.1 3392.8,539.8 3399.6,542.5 3406.3,545.3 3413.0,548.2 3419.5,551.1 3426.0,554.2 3432.5,557.3 3438.8,560.5 3445.1,563.7 3451.3,567.1 3457.4,570.5 3463.4,574.0 3469.4,577.5 3475.2,581.1 3481.0,584.8 3486.6,588.6 3492.2,592.4 3497.7,596.3 3503.1,600.3 3508.4,604.3 3513.6,608.4 3518.7,612.6 3523.7,616.8 3528.6,621.0 3533.4,625.4 3538.1,629.7 3542.6,634.2 3547.1,638.7 3551.5,643.2 3555.7,647.8 3559.9,652.5 3563.9,657.2 3567.8,661.9 3571.6,666.7 3575.3,671.5 3578.8,676.4 3582.3,681.3 3585.6,686.3 3588.8,691.3 3591.9,696.3 3594.8,701.4 3597.7,706.5 3600.4,711.6 3602.9,716.8 3605.4,722.0 3607.7,727.2 3609.9,732.5 3612.0,737.8 3614.0,743.1 3615.8,748.4 3617.5,753.7 3619.0,759.1 3620.5,764.5 3621.7,769.9 3622.9,775.3" fill="#4472C4" />
<polygon points="3624.3,1033.0 3622.4,1038.4 3620.4,1043.8 3618.3,1049.2 3616.0,1054.5 3613.6,1059.8 3611.1,1065.1 3608.4,1070.3 3605.7,1075.5 3602.8,1080.7 3599.7,1085.8 3596.6,1090.9 3593.3,1096.0 3589.9,1101.0 3586.3,1106.0 3582.7,1110.9 3578.9,1115.8 3575.0,1120.7 3571.0,1125.5 3566.9,1130.2 3562.6,1134.9 3558.2,1139.5 3553.8,1144.1 3549.2,1148.7 3544.5,1153.1 3539.7,1157.6 3534.8,1161.9 3529.7,1166.2 3524.6,1170.5 3519.4,1174.7 3514.0,1178.8 3508.6,1182.8 3503.1,1186.8 3497.4,1190.7 3491.7,1194.6 3485.9,1198.3 3480.0,1202.0 3474.0,1205.7 3467.9,1209.2 3461.7,1212.7 3455.4,1216.1 3449.1,1219.5 3442.6,1222.7 3436.1,1225.9 3429.5,1229.0 3422.9,1232.0 3416.1,1234.9 3409.3,1237.8 3402.5,1240.6 3395.5,1243.3 3388.5,1245.9 3381.4,1248.4 3374.3,1250.8 3367.1,1253.2 3359.9,1255.4 3352.6,1257.6 3345.2,1259.7 3337.8,1261.7 3330.4,1263.6 3322.9,1265.4 3315.3,1267.1 3307.7,1268.7 3300.1,1270.3 3292.5,1271.7 3284.8,1273.1 3277.0,1274.3 3269.3,1275.5 3261.5,1276.6 3253.7,1277.6 3245.9,1278.4 3238.0,1279.2 3230.1,1279.9 3222.2,1280.5 3214.3,1281.0 3206.4,1281.4 3198.5,1281.7 3190.6,1282.0 3182.7,1282.1 3174.7,1282.1 3166.8,1282.0 3166.7,1345.0 3170.7,1344.7 3175.6,1344.4 3181.3,1344.2 3187.7,1343.9 3194.7,1343.5 3202.1,1343.1 3209.9,1342.5 3217.9,1341.9 3226.0,1341.2 3234.2,1340.3 3242.2,1339.2 3250.0,1338.0 3257.7,1336.6 3265.7,1335.1 3273.8,1333.5 3282.1,1331.8 3290.5,1329.9 3299.0,1328.0 3307.5,1325.8 3316.0,1323.6 3324.6,1321.2 3333.1,1318.6 3341.6,1315.9 3350.0,1313.0 3358.4,1309.9 3367.1,1306.6 3375.8,1303.0 3384.6,1299.3 3393.4,1295.4 3402.1,1291.4 3410.7,1287.3 3419.1,1283.2 3427.3,1279.0 3435.3,1274.9 3442.8,1270.8 3450.0,1266.7 3456.8,1262.7 3463.2,1258.7 3469.4,1254.6 3475.3,1250.6 3481.0,1246.5 3486.5,1242.3 3491.8,1238.2 3496.9,1234.0 3502.0,1229.8 3506.9,1225.5 3511.8,1221.1 3516.7,1216.7 3521.5,1212.2 3526.2,1207.7 3530.8,1203.2 3535.2,1198.6 3539.6,1194.0 3543.8,1189.3 3547.9,1184.6 3551.9,1179.8 3555.8,1174.9 3559.5,1170.0 3563.2,1165.0 3566.7,1160.0 3570.1,1154.9 3573.3,1149.6 3576.4,1144.3 3579.4,1138.8 3582.2,1133.4 3585.0,1127.8 3587.6,1122.3 3590.2,1116.8 3592.7,1111.2 3595.2,1105.8 3597.6,1100.3 3600.0,1095.0 3602.4,1089.5 3604.8,1083.8 3607.2,1077.8 3609.6,1071.8 3611.9,1065.8 3614.1,1059.9 3616.2,1054.3 3618.1,1049.0 3619.9,1044.1 3621.5,1039.7 3622.9,1036.0 3624.0,1033.0" fill="#6B3512" />
<polygon points="3166.7,882.7 3628.4,900.8 3629.7,906.2 3631.0,911.6 3632.1,917.0 3633.0,922.4 3633.9,927.8 3634.6,933.2 3635.2,938.7 3635.6,944.1 3636.0,949.6 3636.1,955.0 3636.2,960.5 3636.1,965.9 3635.9,971.4 3635.6,976.8 3635.1,982.3 3634.5,987.7 3633.8,993.1 3632.9,998.5 3631.9,1003.9 3630.8,1009.3 3629.5,1014.7 3628.2,1020.1 3626.6,1025.4 3625.0,1030.8 3623.2,1036.1 3621.3,1041.4 3619.3,1046.6 3617.2,1051.9 3614.9,1057.1 3612.5,1062.3 3609.9,1067.4 3607.3,1072.5 3604.5,1077.6 3601.6,1082.7 3598.6,1087.7 3595.4,1092.7 3592.2,1097.6 3588.8,1102.6 3585.3,1107.4 3581.7,1112.2 3577.9,1117.0 3574.1,1121.8 3570.1,1126.5 3566.1,1131.1 3561.9,1135.7 3557.6,1140.2 3553.2,1144.7 3548.7,1149.2 3544.0,1153.6 3539.3,1157.9 3534.5,1162.2 3529.6,1166.4 3524.5,1170.5 3519.4,1174.6 3514.2,1178.7 3508.8,1182.6 3503.4,1186.5 3497.9,1190.4 3492.3,1194.2 3486.6,1197.9 3480.8,1201.5 3474.9,1205.1 3469.0,1208.6 3462.9,1212.0 3456.8,1215.4 3450.6,1218.7 3444.3,1221.9 3437.9,1225.0 3431.5,1228.1 3425.0,1231.1 3418.4,1234.0 3411.8,1236.8 3405.1,1239.5 3398.3,1242.2 3391.4,1244.8 3384.5,1247.3 3377.6,1249.7 3370.5,1252.1 3363.5,1254.3 3356.3,1256.5 3349.1,1258.6 3341.9,1260.6 3334.6,1262.5 3327.3,1264.3 3319.9,1266.1 3312.5,1267.7 3305.1,1269.3 3297.6,1270.8 3290.1,1272.2 3282.5,1273.5 3274.9,1274.7 3267.3,1275.8 3259.7,1276.8 3252.0,1277.8 3244.3,1278.6 3236.6,1279.4 3228.9,1280.0 3221.2,1280.6 3213.4,1281.1 3205.7,1281.5 3197.9,1281.8 3190.1,1282.0 3182.3,1282.1 3174.6,1282.1 3166.8,1282.0" fill="#ED7D31" />
</g>
<text x="2257.8" y="416.0" font-family="Liberation Sans" font-weight="bold" font-size="40.0" fill="#404040" textLength="267.0" lengthAdjust="spacingAndGlyphs" >Propionic acid</text>
<text x="2325.0" y="473.0" font-family="Liberation Sans" font-weight="bold" font-size="40.0" fill="#404040" textLength="130.0" lengthAdjust="spacingAndGlyphs" >104.21</text>
<text x="2211.0" y="554.5" font-family="Liberation Sans" font-weight="bold" font-size="40.0" fill="#404040" textLength="191.0" lengthAdjust="spacingAndGlyphs" >Malic acid</text>
<text x="2241.0" y="610.0" font-family="Liberation Sans" font-weight="bold" font-size="40.0" fill="#404040" textLength="131.0" lengthAdjust="spacingAndGlyphs" >108.11</text>
<text x="2224.0" y="694.5" font-family="Liberation Sans" font-weight="bold" font-size="40.0" fill="#404040" textLength="231.0" lengthAdjust="spacingAndGlyphs" >Tartaric acid</text>
<text x="2272.0" y="750.0" font-family="Liberation Sans" font-weight="bold" font-size="40.0" fill="#404040" textLength="132.0" lengthAdjust="spacingAndGlyphs" >265.33</text>
<text x="2796.7" y="409.6" font-family="Liberation Sans" font-weight="bold" font-size="40.0" fill="#404040" textLength="203.0" lengthAdjust="spacingAndGlyphs" >Oxalic acid</text>
<text x="2844.6" y="464.0" font-family="Liberation Sans" font-weight="bold" font-size="40.0" fill="#404040" textLength="106.0" lengthAdjust="spacingAndGlyphs" >38.66</text>
<text x="3069.0" y="404.5" font-family="Liberation Sans" font-weight="bold" font-size="40.0" fill="#404040" textLength="238.0" lengthAdjust="spacingAndGlyphs" >Succinic acid</text>
<text x="3148.0" y="462.8" font-family="Liberation Sans" font-weight="bold" font-size="40.0" fill="#404040" textLength="83.0" lengthAdjust="spacingAndGlyphs" >8.69</text>
<text x="3294.0" y="444.8" font-family="Liberation Sans" font-weight="bold" font-size="40.0" fill="#404040" textLength="250.0" lengthAdjust="spacingAndGlyphs" >Ascorbic acid</text>
<text x="3390.0" y="501.0" font-family="Liberation Sans" font-weight="bold" font-size="40.0" fill="#404040" textLength="57.0" lengthAdjust="spacingAndGlyphs" >8.4</text>
<text x="2575.0" y="808.0" font-family="Liberation Sans" font-weight="bold" font-size="40.0" fill="#ffffff" textLength="240.6" lengthAdjust="spacingAndGlyphs" >Fumaric acid</text>
<text x="2629.0" y="865.6" font-family="Liberation Sans" font-weight="bold" font-size="40.0" fill="#ffffff" textLength="132.0" lengthAdjust="spacingAndGlyphs" >394.89</text>
<text x="2695.6" y="1123.3" font-family="Liberation Sans" font-weight="bold" font-size="40.0" fill="#ffffff" textLength="187.4" lengthAdjust="spacingAndGlyphs" >Citric acid</text>
<text x="2723.0" y="1180.6" font-family="Liberation Sans" font-weight="bold" font-size="40.0" fill="#ffffff" textLength="132.6" lengthAdjust="spacingAndGlyphs" >542.45</text>
<text x="3257.0" y="634.4" font-family="Liberation Sans" font-weight="bold" font-size="40.0" fill="#ffffff" textLength="196.0" lengthAdjust="spacingAndGlyphs" >Lactic acid</text>
<text x="3290.6" y="692.8" font-family="Liberation Sans" font-weight="bold" font-size="40.0" fill="#ffffff" textLength="131.4" lengthAdjust="spacingAndGlyphs" >765.48</text>
<text x="3322.0" y="1072.0" font-family="Liberation Sans" font-weight="bold" font-size="40.0" fill="#ffffff" textLength="209.6" lengthAdjust="spacingAndGlyphs" >Acetic acid</text>
<text x="3360.0" y="1130.0" font-family="Liberation Sans" font-weight="bold" font-size="40.0" fill="#ffffff" textLength="135.7" lengthAdjust="spacingAndGlyphs" >728.99</text>
<g filter="url(#glow)">
<ellipse cx="4229.5" cy="924" rx="402" ry="305" fill="url(#gBlSide)"/>
<ellipse cx="4229.5" cy="870" rx="421.5" ry="306.5" fill="#4472C4"/>
<polygon points="4228.0,806.7 4228.0,563.5 4223.0,563.5 4218.1,563.6 4213.1,563.7 4208.1,563.9 4203.2,564.1 4198.2,564.3 4193.3,564.6 4188.3,565.0 4183.4,565.3 4178.5,565.8 4173.5,566.2 4168.6,566.7 4163.7,567.3 4158.8,567.8 4153.9,568.5 4149.0,569.1 4144.2,569.8 4139.3,570.6 4134.5,571.4" fill="#A5A5A5" />
<polygon points="4228.0,806.7 4134.5,571.4 4131.2,572.0 4128.0,572.5 4124.7,573.1 4121.5,573.7 4118.3,574.4 4115.0,575.0 4111.8,575.7 4108.6,576.4 4105.4,577.1 4102.2,577.8 4099.1,578.5 4095.9,579.3 4092.7,580.1 4089.6,580.9 4086.4,581.7 4083.3,582.5 4080.2,583.4 4077.0,584.3 4073.9,585.1" fill="#ED7D31" />
</g>
<text x="3817.0" y="522.0" font-family="Liberation Serif" font-weight="bold" font-size="48.0" fill="#222" textLength="222.0" lengthAdjust="spacingAndGlyphs" >β-carotene</text>
<text x="3872.6" y="582.0" font-family="Liberation Serif" font-weight="bold" font-size="52.0" fill="#222" textLength="114.0" lengthAdjust="spacingAndGlyphs" >51.67</text>
<text x="4215.0" y="487.0" font-family="Liberation Serif" font-weight="bold" font-size="48.0" fill="#222" textLength="222.0" lengthAdjust="spacingAndGlyphs" >γ-carotene</text>
<text x="4267.0" y="541.0" font-family="Liberation Serif" font-weight="bold" font-size="52.0" fill="#222" textLength="116.0" lengthAdjust="spacingAndGlyphs" >84.05</text>
<text x="4214.0" y="952.0" font-family="Liberation Serif" font-weight="bold" font-size="52.0" fill="#fff" textLength="225.0" lengthAdjust="spacingAndGlyphs" >α-carotene</text>
<text x="4245.6" y="1011.0" font-family="Liberation Serif" font-weight="bold" font-size="52.0" fill="#fff" textLength="163.0" lengthAdjust="spacingAndGlyphs" >1698.22</text>
<polyline points="4051.6,520.0 4070.0,523.0 4098.5,577.0" fill="none" stroke="#121212" stroke-width="3.5" stroke-linejoin="round" stroke-linecap="round"/>
<polyline points="4215.0,483.0 4192.0,486.0 4178.0,566.0" fill="none" stroke="#121212" stroke-width="3.5" stroke-linejoin="round" stroke-linecap="round"/>
<text x="4700.0" y="544.0" font-family="Liberation Serif" font-weight="bold" font-size="50.0" fill="#3a3a3a" textLength="238.0" lengthAdjust="spacingAndGlyphs" >δ-tocopherol</text>
<text x="4776.0" y="598.0" font-family="Liberation Serif" font-weight="bold" font-size="50.0" fill="#3a3a3a" textLength="88.0" lengthAdjust="spacingAndGlyphs" >11.12</text>
</svg>
</body></html>
